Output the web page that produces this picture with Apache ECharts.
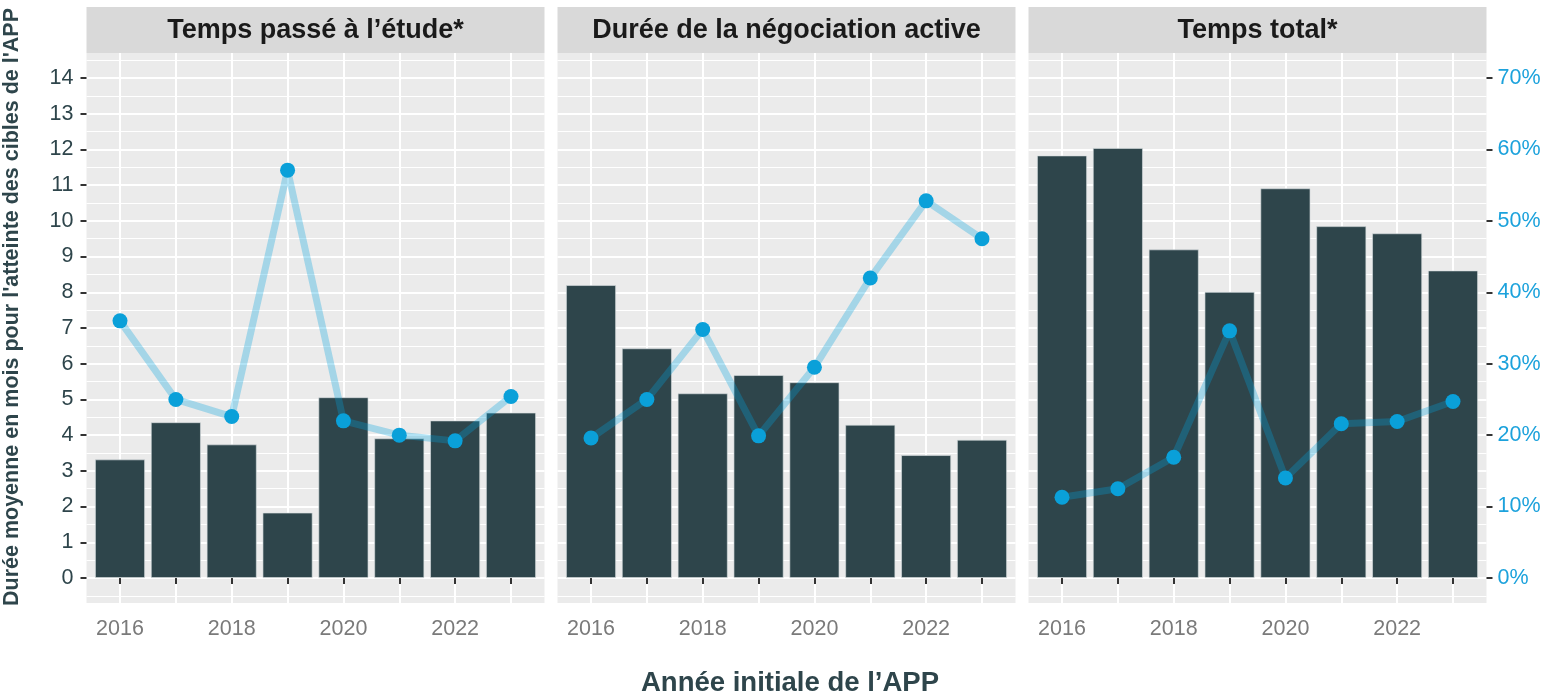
<!DOCTYPE html>
<html>
<head>
<meta charset="utf-8">
<script src="https://cdn.jsdelivr.net/npm/echarts@6/dist/echarts.min.js"></script>
<style>
html,body{margin:0;padding:0;background:#fff;}
#chart{width:1564px;height:694px;}
</style>
</head>
<body>
<div id="chart"></div>
<script>
// ---- data ----
const years = [2016, 2017, 2018, 2019, 2020, 2021, 2022, 2023];
const panelTitles = ['Temps passé à l’étude*', 'Durée de la négociation active', 'Temps total*'];
const barsEtude = [3.32, 4.36, 3.74, 1.83, 5.06, 3.91, 4.41, 4.63];
const pctEtude  = [36.0, 25.0, 22.6, 57.1, 22.0, 20.0, 19.2, 25.4];
const barsNego  = [8.20, 6.43, 5.17, 5.68, 5.48, 4.29, 3.44, 3.87];
const pctNego   = [19.6, 25.0, 34.8, 19.9, 29.5, 42.0, 52.8, 47.5];
const barsTotal = [11.83, 12.04, 9.20, 8.01, 10.91, 9.85, 9.65, 8.61];
const pctTotal  = [11.3, 12.5, 16.9, 34.6, 14.0, 21.6, 21.9, 24.7];
const yTicks = [0, 1, 2, 3, 4, 5, 6, 7, 8, 9, 10, 11, 12, 13, 14];
const yMinorTicks = [-0.5, 0.5, 1.5, 2.5, 3.5, 4.5, 5.5, 6.5, 7.5, 8.5, 9.5, 10.5, 11.5, 12.5, 13.5, 14.5];
const pctTicks = [0, 10, 20, 30, 40, 50, 60, 70];
const xTicks = years;
const xLabels = [2016, 2018, 2020, 2022];
const yTitle = 'Durée moyenne en mois pour l\'atteinte des cibles de l\'APP';
const xTitle = 'Année initiale de l’APP';

const barSets = [barsEtude, barsNego, barsTotal];
const pctSets = [pctEtude, pctNego, pctTotal];

// ---- layout ----
const panelLefts = [86.5, 557.5, 1028.5];
const panelW = 458;
const panelTop = 53;
const panelH = 550;
const stripTop = 7;
const stripH = 46;

const FONT = '"Liberation Sans", Arial, sans-serif';
const BAR = '#2e454b';
const BLUE = '#0aa0d9';

const grids = [], xAxes = [], yAxes = [], series = [], graphics = [];

panelLefts.forEach((L, i) => {
  grids.push({
    left: L, top: panelTop, width: panelW, height: panelH,
    show: true, backgroundColor: '#ebebeb', borderWidth: 0, containLabel: false
  });
  xAxes.push({
    type: 'value', gridIndex: i, min: 2015.4, max: 2023.6,
    axisLine: { show: false },
    axisTick: { show: true, customValues: xTicks, length: 6, lineStyle: { color: '#333333', width: 2 } },
    axisLabel: { show: true, customValues: xLabels, margin: 15, color: '#7a7a7a', fontSize: 21.5, fontFamily: FONT,
                 formatter: v => String(Math.round(v)) },
    splitLine: { show: true, lineStyle: { color: '#ffffff', width: 2 } }
  });
  // major left axis
  yAxes.push({
    type: 'value', gridIndex: i, position: 'left', min: -0.7, max: 14.7,
    axisLine: { show: false },
    axisTick: { show: i === 0, customValues: yTicks, length: 6, lineStyle: { color: '#333333', width: 2 } },
    axisLabel: { show: i === 0, customValues: yTicks, margin: 13, color: '#2e454b', fontSize: 21.5, fontFamily: FONT },
    splitLine: { show: true, lineStyle: { color: '#ffffff', width: 2 } }
  });
  // minor grid axis
  yAxes.push({
    type: 'value', gridIndex: i, position: 'left', min: -0.7, max: 14.7,
    axisLine: { show: false },
    axisTick: { show: false, customValues: yMinorTicks },
    axisLabel: { show: false },
    splitLine: { show: true, lineStyle: { color: '#ffffff', width: 1 } }
  });
  // percent axis
  yAxes.push({
    type: 'value', gridIndex: i, position: 'right', min: -3.5, max: 73.5,
    axisLine: { show: false },
    axisTick: { show: i === 2, customValues: pctTicks, length: 6, lineStyle: { color: '#333333', width: 2 } },
    axisLabel: { show: i === 2, customValues: pctTicks, margin: 11, formatter: '{value}%', color: '#1ca2dc', fontSize: 21.5, fontFamily: FONT },
    splitLine: { show: false }
  });

  series.push({
    type: 'bar', xAxisIndex: i, yAxisIndex: 3 * i,
    data: years.map((y, k) => [y, barSets[i][k]]),
    barWidth: 50,
    itemStyle: { color: BAR, borderColor: 'rgba(215,222,224,0.8)', borderWidth: 0.8 },
    z: 2, silent: true
  });
  series.push({
    type: 'line', xAxisIndex: i, yAxisIndex: 3 * i + 2,
    data: years.map((y, k) => [y, pctSets[i][k]]),
    lineStyle: { color: 'rgba(0,161,221,0.3)', width: 7 },
    symbol: 'circle', symbolSize: 15,
    itemStyle: { color: BLUE, opacity: 1 },
    z: 3, silent: true
  });

  graphics.push({
    type: 'rect', left: L, top: stripTop,
    shape: { width: panelW, height: stripH },
    style: { fill: '#d9d9d9' }, silent: true
  });
  graphics.push({
    type: 'text', x: L + panelW / 2, y: stripTop + stripH / 2 + 1,
    style: { text: panelTitles[i], fill: '#1a1a1a', font: 'bold 27px ' + FONT, textAlign: 'center', textVerticalAlign: 'middle' },
    silent: true
  });
});

graphics.push({
  type: 'text', x: 12, y: 307, rotation: Math.PI / 2,
  style: { text: yTitle, fill: '#2e454b', font: 'bold 21.5px ' + FONT, textAlign: 'center', textVerticalAlign: 'middle' },
  silent: true
});
graphics.push({
  type: 'text', x: 790, y: 683,
  style: { text: xTitle, fill: '#2e454b', font: 'bold 27.5px ' + FONT, textAlign: 'center', textVerticalAlign: 'middle' },
  silent: true
});

const chart = echarts.init(document.getElementById('chart'), null, { renderer: 'canvas' });
chart.setOption({
  animation: false,
  backgroundColor: '#ffffff',
  textStyle: { fontFamily: FONT },
  grid: grids,
  xAxis: xAxes,
  yAxis: yAxes,
  series: series,
  graphic: graphics
});
</script>
</body>
</html>
